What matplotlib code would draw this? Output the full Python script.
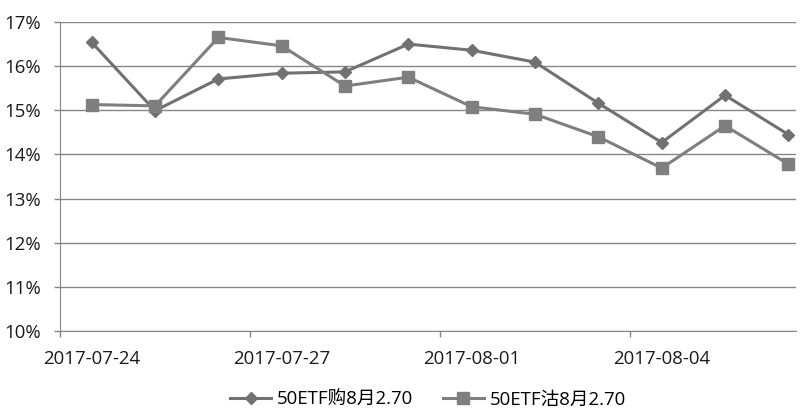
import matplotlib
matplotlib.use("Agg")
import matplotlib.pyplot as plt
from matplotlib.ticker import FixedLocator, FuncFormatter

plt.rcParams['font.family'] = ['Open Sans', 'Noto Sans CJK SC', 'DejaVu Sans']

dates = ["2017-07-24", "2017-07-25", "2017-07-26", "2017-07-27", "2017-07-28",
         "2017-07-31", "2017-08-01", "2017-08-02", "2017-08-03", "2017-08-04",
         "2017-08-07", "2017-08-08"]
call_vals = [16.54, 14.99, 15.71, 15.84, 15.87, 16.50, 16.36, 16.09, 15.16, 14.27, 15.34, 14.45]
put_vals = [15.13, 15.10, 16.65, 16.46, 15.55, 15.75, 15.08, 14.91, 14.40, 13.69, 14.65, 13.78]
call_name = "50ETF购8月2.70"
put_name = "50ETF沽8月2.70"
yticks = [10, 11, 12, 13, 14, 15, 16, 17]

W, H = 802, 413
fig = plt.figure(figsize=(W / 100, H / 100), dpi=100)
ax = fig.add_axes([60 / W, 1 - 331 / H, (796 - 60) / W, (331 - 22) / H])

x = list(range(len(dates)))
gray = "#868686"
ax.plot(x, call_vals, color="#717171", lw=2.2, marker="D", ms=6, mec="#717171", mfc="#717171",
        label=call_name, zorder=3)
ax.plot(x, put_vals, color="#7f7f7f", lw=2.2, marker="s", ms=8.5, mec="#7f7f7f", mfc="#7f7f7f",
        label=put_name, zorder=3)

ax.set_ylim(10, 17)
ax.set_xlim(-0.5, 11.12)
ax.yaxis.set_major_locator(FixedLocator(yticks))
ax.yaxis.set_major_formatter(FuncFormatter(lambda v, p: f"{int(round(v))}%"))
ax.grid(axis="y", color=gray, lw=1.0)
ax.set_axisbelow(True)

fs = 13.4
label_idx = [0, 3, 6, 9]
ax.set_xticks(label_idx)
ax.set_xticklabels([dates[i] for i in label_idx])
ax.set_xticks([-0.5, 2.5, 5.5, 8.5], minor=True)
ax.tick_params(axis="x", which="major", length=0, pad=14, labelsize=fs, colors="#1a1a1a")
ax.tick_params(axis="x", which="minor", length=4.5, width=1, color=gray)
ax.tick_params(axis="y", length=4.5, width=1, color=gray, pad=9, labelsize=fs, labelcolor="#1a1a1a")

for s in ["top", "right"]:
    ax.spines[s].set_visible(False)
ax.spines["left"].set_color(gray)
ax.spines["bottom"].set_color(gray)

fig.legend(loc="center", bbox_to_anchor=(428 / W, 1 - 400 / H), ncol=2, frameon=False,
           fontsize=fs, handlelength=2.2, handletextpad=0.3, columnspacing=1.6)

fig.savefig("out.png", dpi=100)
